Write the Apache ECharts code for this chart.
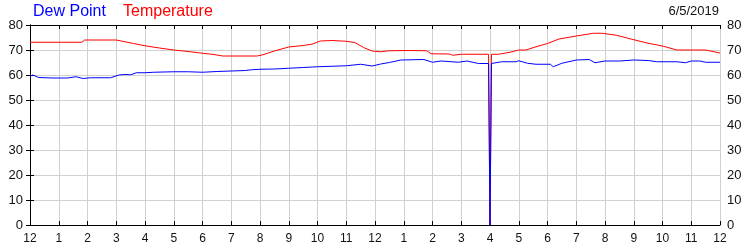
<!DOCTYPE html>
<html>
<head>
<meta charset="utf-8">
<script src="https://cdn.jsdelivr.net/npm/echarts@6/dist/echarts.min.js"></script>
<style>html,body{margin:0;padding:0;background:#fff}#c{width:750px;height:250px}</style>
</head>
<body>
<div id="c"></div>
<script>
var hourLabels = ['12','1','2','3','4','5','6','7','8','9','10','11','12','1','2','3','4','5','6','7','8','9','10','11','12'];
var yTicks = [0,10,20,30,40,50,60,70,80];
var dateText = '6/5/2019';

var tempHours = [0,1.8,1.9,3.0,3.3,3.6,4.0,4.5,5.0,5.5,6.0,6.4,6.7,7.9,8.1,8.5,9.0,9.5,9.8,10.1,10.5,11.0,11.3,11.6,11.9,12.2,12.5,13.2,13.8,13.95,14.6,14.7,15.0,15.95,16.0,16.05,16.3,16.7,17.0,17.25,17.6,18.0,18.4,19.0,19.6,19.9,20.4,20.9,21.5,22.0,22.5,23.5,24.0];
var tempValues = [73.1,73.1,74.0,74.0,73.3,72.6,71.7,70.8,70.0,69.4,68.7,68.2,67.6,67.6,68.1,69.6,71.2,71.8,72.3,73.6,73.8,73.5,73.0,71.0,69.6,69.3,69.7,69.8,69.7,68.5,68.4,67.9,68.3,68.3,0,68.3,68.3,69.1,70.0,70.0,71.3,72.6,74.4,75.6,76.7,76.7,75.9,74.4,72.7,71.6,70.0,70.0,68.8];

var dewHours = [0,0.1,0.3,0.8,1.3,1.6,1.85,2.1,2.8,3.1,3.3,3.5,3.7,4.0,4.3,5.0,5.5,6.0,6.5,7.0,7.5,7.7,8.0,8.5,9.0,9.5,10.0,10.5,11.0,11.5,11.9,12.2,12.5,12.9,13.7,14.0,14.3,14.9,15.2,15.6,15.95,16.0,16.05,16.4,16.9,17.0,17.3,17.6,18.1,18.2,18.5,19.0,19.45,19.65,20.0,20.5,21.0,21.5,21.8,22.5,22.8,23.0,23.3,23.5,24.0];
var dewValues = [59.5,60.0,59.0,58.8,58.8,59.3,58.6,58.9,58.9,60.0,60.2,60.1,60.9,60.9,61.1,61.3,61.3,61.1,61.4,61.6,61.8,62.1,62.3,62.4,62.7,63.0,63.3,63.5,63.7,64.3,63.6,64.4,65.0,66.0,66.2,65.1,65.6,65.1,65.6,64.6,64.6,0,64.6,65.3,65.3,65.7,64.7,64.3,64.3,63.3,64.7,66.0,66.2,64.9,65.6,65.6,66.0,65.8,65.3,65.3,64.9,65.6,65.6,65.1,65.1];

function pairs(xs, ys){ return xs.map(function(x,i){return [x, ys[i]];}); }

var chart = echarts.init(document.getElementById('c'), null, {renderer:'canvas'});
var fontFam = 'Liberation Sans, Arial, sans-serif';
var gridColor = '#d0d0d0';
var yBase = {
  type:'value', min:0, max:80, interval:10,
  axisLine:{show:true, lineStyle:{color:'#000', width:1}},
  axisTick:{show:true, inside:true, length:4, lineStyle:{color:'#000'}},
  axisLabel:{fontSize:13, color:'#111', fontFamily:fontFam, margin:7,
    formatter:function(v){ return yTicks.indexOf(v) >= 0 ? String(v) : ''; }}
};
var xBase = {
  type:'value', min:0, max:24, interval:1,
  axisLine:{show:true, onZero:false, lineStyle:{color:'#000', width:1}},
  axisTick:{show:true, inside:true, length:4, lineStyle:{color:'#000'}}
};
chart.setOption({
  animation:false,
  backgroundColor:'#fff',
  grid:{left:30, right:30, top:25, bottom:25, containLabel:false},
  graphic:[
    {type:'text', left:33, top:4, style:{text:'Dew Point', fill:'#0000ff', font:'16px '+fontFam}},
    {type:'text', left:123, top:4, style:{text:'Temperature', fill:'#ff0000', font:'16px '+fontFam}},
    {type:'text', right:31, top:5, style:{text:dateText, fill:'#111', font:'13px '+fontFam}}
  ],
  xAxis:[
    Object.assign({}, xBase, {position:'bottom',
      splitLine:{show:true, lineStyle:{color:gridColor, width:1}},
      axisLabel:{fontSize:12, color:'#111', fontFamily:fontFam, margin:8,
        formatter:function(v){ return hourLabels[Math.round(v)]; }}}),
    Object.assign({}, xBase, {position:'top', splitLine:{show:false}, axisLabel:{show:false}})
  ],
  yAxis:[
    Object.assign({}, yBase, {position:'left', splitLine:{show:true, lineStyle:{color:gridColor, width:1}}}),
    Object.assign({}, yBase, {position:'right', splitLine:{show:false}})
  ],
  series:[
    {name:'Temperature', type:'line', data:pairs(tempHours, tempValues), showSymbol:false, symbol:'none',
      lineStyle:{color:'#ff0000', width:1}, itemStyle:{color:'#ff0000'}},
    {name:'Dew Point', type:'line', data:pairs(dewHours, dewValues), showSymbol:false, symbol:'none',
      lineStyle:{color:'#0000ff', width:1}, itemStyle:{color:'#0000ff'}}
  ]
});
</script>
</body>
</html>
